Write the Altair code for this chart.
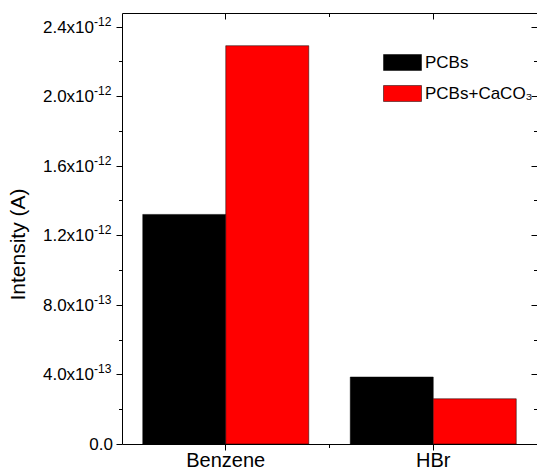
import altair as alt
import pandas as pd

# ---- data ----
categories = ["Benzene", "HBr"]
series_names = ["PCBs", "PCBs+CaCO₃"]
pcbs_values = [1.32e-12, 0.385e-12]
pcbs_caco3_values = [2.29e-12, 0.26e-12]

y_tick_values = [0.0, 4e-13, 8e-13, 1.2e-12, 1.6e-12, 2.0e-12, 2.4e-12]
y_tick_mantissa = ["0.0", "4.0x10", "8.0x10", "1.2x10", "1.6x10", "2.0x10", "2.4x10"]
y_tick_exponent = ["", "-13", "-13", "-12", "-12", "-12", "-12"]
y_all_ticks = [0.0, 2e-13, 4e-13, 6e-13, 8e-13, 1.0e-12, 1.2e-12, 1.4e-12,
               1.6e-12, 1.8e-12, 2.0e-12, 2.2e-12, 2.4e-12]
y_max = 2.478e-12

W, H = 415, 431
FONT = "Liberation Sans"

bars_df = pd.DataFrame({
    "category": categories * 2,
    "series": [series_names[0]] * len(categories) + [series_names[1]] * len(categories),
    "value": pcbs_values + pcbs_caco3_values,
})
labels_df = pd.DataFrame({
    "value": y_tick_values,
    "mantissa": y_tick_mantissa,
    "exponent": y_tick_exponent,
})
bounds_df = pd.DataFrame({"category": categories[:-1]})

y_scale = alt.Scale(domain=[0, y_max], nice=False, zero=True)
x_scale = alt.Scale(domain=categories, paddingInner=0, paddingOuter=0)

major_test = "round(datum.value * 1e13) % 4 == 0"
tick_cond = {"condition": {"test": major_test, "value": 6}, "value": 3.5}

bars = alt.Chart(bars_df).mark_bar(stroke="black", strokeWidth=0.5).encode(
    x=alt.X("category:N", scale=x_scale,
            axis=alt.Axis(title=None, labelFont=FONT, labelFontSize=20,
                          labelColor="black", labelAngle=0, labelPadding=0,
                          tickSize=6, tickColor="black", domain=False)),
    xOffset=alt.XOffset("series:N", sort=series_names,
                        scale=alt.Scale(paddingInner=0, paddingOuter=0.25)),
    y=alt.Y("value:Q", scale=y_scale,
            axis=alt.Axis(values=y_all_ticks, labels=False, tickSize=tick_cond,
                          tickColor="black", domain=False, grid=False,
                          title="Intensity (A)", titleFont=FONT, titleFontSize=21,
                          titleFontWeight="normal", titleColor="black",
                          titleAngle=-90, titleAlign="center", titleBaseline="middle",
                          titleX=-104, titleY=231)),
    color=alt.Color("series:N", sort=series_names,
                    scale=alt.Scale(domain=series_names, range=["#000000", "#ff0000"]),
                    legend=alt.Legend(title=None, orient="none", legendX=261, legendY=30,
                                      symbolType="M-1,-0.42H1V0.42H-1Z", symbolSize=1444,
                                      symbolStrokeColor="black", symbolStrokeWidth=0.5,
                                      symbolOpacity=1,
                                      labelFont=FONT, labelFontSize=17, labelColor="black",
                                      labelOffset=3, rowPadding=2, padding=0)),
)

mirror = alt.Chart(bars_df).mark_point(opacity=0).encode(
    x=alt.X("category:N", scale=x_scale,
            axis=alt.Axis(orient="bottom", offset=-H, labels=False, tickSize=6,
                          tickColor="black", domain=False, title=None)),
    y=alt.Y("value:Q", scale=y_scale,
            axis=alt.Axis(orient="left", offset=-W, labels=False, values=y_all_ticks,
                          tickSize=tick_cond, tickColor="black", domain=False,
                          grid=False, title=None)),
)

mant = alt.Chart(labels_df).transform_calculate(
    xpos="datum.exponent == '' ? -9 : -28"
).mark_text(align="right", baseline="middle", font=FONT, fontSize=17,
            color="black", dy=1).encode(
    x=alt.X("xpos:Q", scale=None, axis=None),
    y=alt.Y("value:Q", scale=y_scale, axis=None),
    text="mantissa:N",
)

expo = alt.Chart(labels_df).mark_text(align="left", baseline="alphabetic", font=FONT,
                                      fontSize=12, color="black", dy=-1).encode(
    x=alt.value(-28),
    y=alt.Y("value:Q", scale=y_scale, axis=None),
    text="exponent:N",
)

rule_bottom = alt.Chart(bounds_df).mark_rule(color="black", strokeWidth=1).encode(
    x=alt.X("category:N", scale=x_scale, bandPosition=1, axis=None),
    y=alt.value(H),
    y2=alt.value(H + 4),
)
rule_top = alt.Chart(bounds_df).mark_rule(color="black", strokeWidth=1).encode(
    x=alt.X("category:N", scale=x_scale, bandPosition=1, axis=None),
    y=alt.value(0),
    y2=alt.value(4),
)

chart = alt.layer(bars, mirror, mant, expo, rule_bottom, rule_top).resolve_axis(
    x="independent", y="independent"
).properties(
    width=W, height=H,
    autosize=alt.AutoSizeParams(type="none"),
    padding={"left": 122, "top": 13, "right": 0, "bottom": 26},
).configure_view(stroke="black", strokeWidth=1)

chart.save("out.html", embed_options={"renderer": "svg", "actions": False})
